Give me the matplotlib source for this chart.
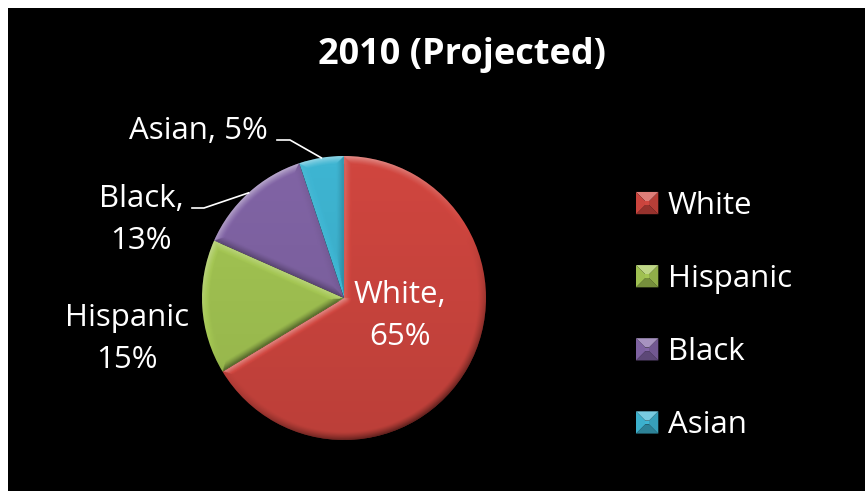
import numpy as np
import matplotlib.pyplot as plt
from matplotlib.patches import Rectangle, Polygon
from matplotlib.legend_handler import HandlerPatch
from matplotlib.colors import to_rgb

groups = ["White", "Hispanic", "Black", "Asian"]
shares = [65, 15, 13, 5]
colors = ["#D0463F", "#A4C653", "#8164A5", "#3EB5D2"]
title = "2010 (Projected)"

plt.rcParams["font.family"] = ["Open Sans", "DejaVu Sans"]
FS = 22.5

W, H = 865, 491
fig = plt.figure(figsize=(W / 100, H / 100), dpi=100, facecolor="white")
ax = fig.add_axes([0, 0, 1, 1])
ax.add_patch(Rectangle((8, -10), W + 10, H + 2, facecolor="black",
                       edgecolor="none", zorder=0))

cx, cy, R = 344, 193, 142
wedges, _ = ax.pie(shares, colors=colors, startangle=90, counterclock=False,
                   center=(cx, cy), radius=R,
                   wedgeprops=dict(linewidth=0, zorder=2))


def bevel(w, width=8.0):
    # soft bevel: lit from the upper left, edges fade into the flat face
    x0, y0 = w.center
    r = w.r
    t1, t2 = np.radians(w.theta1), np.radians(w.theta2)
    n = int(4 * r)
    xs = np.linspace(x0 - r, x0 + r, n)
    ys = np.linspace(y0 - r, y0 + r, n)
    X, Y = np.meshgrid(xs, ys)
    dx, dy = X - x0, Y - y0
    rho = np.hypot(dx, dy)
    phi = np.arctan2(dy, dx)
    a1 = np.mod(phi - t1, 2 * np.pi)
    a2 = np.mod(t2 - phi, 2 * np.pi)
    d_arc = r - rho
    d1 = np.where(a1 < np.pi / 2, rho * np.sin(a1), rho)
    d2 = np.where(a2 < np.pi / 2, rho * np.sin(a2), rho)
    d = np.minimum(np.minimum(d_arc, d1), d2)
    nx = np.where(d == d_arc, np.cos(phi),
                  np.where(d == d1, np.cos(t1 - np.pi / 2), np.cos(t2 + np.pi / 2)))
    ny = np.where(d == d_arc, np.sin(phi),
                  np.where(d == d1, np.sin(t1 - np.pi / 2), np.sin(t2 + np.pi / 2)))
    lx, ly = -0.45, 0.89
    lam = nx * lx + ny * ly
    edge = np.clip(1 - d / width, 0, 1) ** 1.3
    v = 0.45 * lam * edge - 0.10 * (y0 - Y + r) / (2 * r)
    rgba = np.zeros((n, n, 4))
    rgba[..., :3] = np.where(v[..., None] > 0, 1.0, 0.0)
    rgba[..., 3] = np.clip(np.abs(v), 0, 1)
    im = ax.imshow(rgba, extent=(x0 - r, x0 + r, y0 - r, y0 + r), origin="lower",
                   zorder=3, interpolation="bilinear")
    im.set_clip_path(w)


for w in wedges:
    bevel(w)


class PyramidHandler(HandlerPatch):
    def create_artists(self, legend, orig_handle, xdescent, ydescent,
                       width, height, fontsize, trans):
        base = np.array(to_rgb(orig_handle.get_facecolor()))
        s = min(width, height)
        x0 = -xdescent
        y0 = -ydescent + (height - s) / 2
        k = 0.42 * s
        o = [(x0, y0), (x0 + s, y0), (x0 + s, y0 + s), (x0, y0 + s)]
        i = [(x0 + k, y0 + k), (x0 + s - k, y0 + k), (x0 + s - k, y0 + s - k), (x0 + k, y0 + s - k)]
        faces = [
            ([o[0], o[1], i[1], i[0]], base * 0.72),
            ([o[1], o[2], i[2], i[1]], base * 0.88),
            ([o[2], o[3], i[3], i[2]], base + (1 - base) * 0.3),
            ([o[3], o[0], i[0], i[3]], base * 0.97),
            (i, base),
        ]
        arts = []
        for pts, c in faces:
            p = Polygon(pts, closed=True, facecolor=np.clip(c, 0, 1), edgecolor="none")
            p.set_transform(trans)
            arts.append(p)
        return arts


ax.legend(wedges, groups, loc="upper left", bbox_to_anchor=(636, 300),
          bbox_transform=ax.transData, frameon=False, fontsize=FS,
          labelcolor="white", handlelength=0.72, handleheight=0.72,
          handletextpad=0.3, labelspacing=1.38, borderpad=0, borderaxespad=0,
          handler_map={w: PyramidHandler() for w in wedges})

# data labels
label_pos = {
    "White": (400, 175),
    "Hispanic": (127, 152),
    "Black": (141, 271),
    "Asian": (198, 360),
}
label_text = {
    "White": "White,\n{}%",
    "Hispanic": "Hispanic\n{}%",
    "Black": "Black,\n{}%",
    "Asian": "Asian, {}%",
}
for g, v in zip(groups, shares):
    x, y = label_pos[g]
    ax.text(x, y, label_text[g].format(v), ha="center", va="center",
            multialignment="center", color="white", fontsize=FS,
            linespacing=1.55, zorder=5)

# leader lines from the outside labels to the slice edge
knees = {"Black": [(192, 283), (204, 283)], "Asian": [(277, 351), (290, 351)]}
for g, w in zip(groups, wedges):
    if g not in knees:
        continue
    th = np.radians((w.theta1 + w.theta2) / 2)
    ex, ey = cx + R * np.cos(th), cy + R * np.sin(th)
    pts = knees[g] + [(ex, ey)]
    ax.plot([p[0] for p in pts], [p[1] for p in pts], color="white", lw=1.2, zorder=4)

ax.text(462, 436, title, ha="center", va="center", color="white",
        fontsize=26, fontweight="bold", zorder=5)

ax.set_xlim(0, W)
ax.set_ylim(0, H)
ax.set_aspect("equal")
ax.set_axis_off()

fig.savefig("out.png", dpi=100, facecolor="white")
